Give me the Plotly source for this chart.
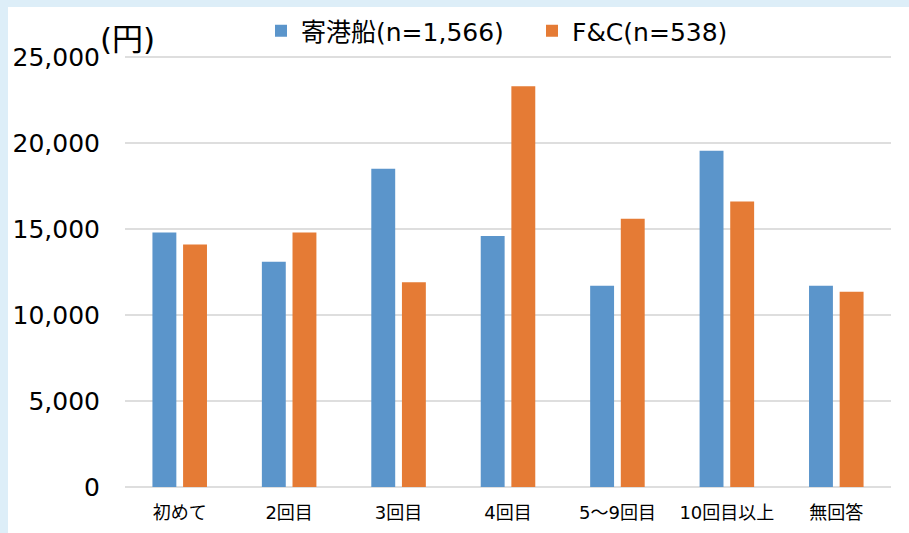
import plotly.graph_objects as go

categories = ["初めて", "2回目", "3回目", "4回目", "5～9回目", "10回目以上", "無回答"]
series_names = ["寄港船(n=1,566)", "F&C(n=538)"]
port_ship = [14800, 13100, 18500, 14600, 11700, 19550, 11700]
fc = [14100, 14800, 11900, 23300, 15600, 16600, 11350]
y_ticks = [0, 5000, 10000, 15000, 20000, 25000]
y_tick_labels = ["0", "5,000", "10,000", "15,000", "20,000", "25,000"]
unit_label = "(円)"

FONT = "'DejaVu Sans', 'Noto Sans CJK JP', sans-serif"
W, H = 909, 533
L, R, T, B = 125, 18, 56, 46
pw, ph = W - L - R, H - T - B

def px_x(x):
    return (x - L) / pw

def px_y(y):
    return (H - B - y) / ph

fig = go.Figure()
fig.add_trace(go.Bar(x=categories, y=port_ship, name=series_names[0],
                     marker=dict(color="#5B95CB", line=dict(width=0))))
fig.add_trace(go.Bar(x=categories, y=fc, name=series_names[1],
                     marker=dict(color="#E57B35", line=dict(width=0))))

fig.update_layout(
    width=W, height=H,
    margin=dict(l=L, r=R, t=T, b=B, pad=0, autoexpand=False),
    paper_bgcolor="#DDEEF8",
    plot_bgcolor="white",
    barmode="group",
    bargap=0.44,
    bargroupgap=0.22,
    font=dict(family=FONT, color="#000000"),
    showlegend=True,
    legend=dict(orientation="h", x=px_x(261), xanchor="left",
                y=px_y(31), yanchor="middle",
                font=dict(size=25, family=FONT), bgcolor="rgba(0,0,0,0)",
                itemwidth=30, entrywidth=226, entrywidthmode="pixels",
                traceorder="normal"),
    shapes=[dict(type="rect", xref="paper", yref="paper",
                 x0=px_x(8), x1=px_x(W + 5), y0=px_y(H + 5), y1=px_y(7),
                 fillcolor="white", line=dict(width=0), layer="below")],
    annotations=[dict(text=unit_label, xref="paper", yref="paper",
                      x=px_x(98), y=px_y(39), xanchor="left", yanchor="middle",
                      showarrow=False, font=dict(size=31, family=FONT))],
)
fig.update_xaxes(showgrid=False, showline=False, ticks="",
                 tickfont=dict(size=18, family=FONT),
                 ticklabelstandoff=13)
fig.update_yaxes(range=[0, 25060], tickvals=y_ticks, ticktext=y_tick_labels,
                 showgrid=True, gridcolor="#DEDEDE", gridwidth=2,
                 zeroline=True, zerolinecolor="#DEDEDE", zerolinewidth=2,
                 showline=False, ticks="",
                 tickfont=dict(size=25, family=FONT),
                 ticklabelstandoff=24)

fig.write_html("out.html", config={"displayModeBar": False},
               post_script="document.body.style.margin='0';document.body.style.overflow='hidden';")
